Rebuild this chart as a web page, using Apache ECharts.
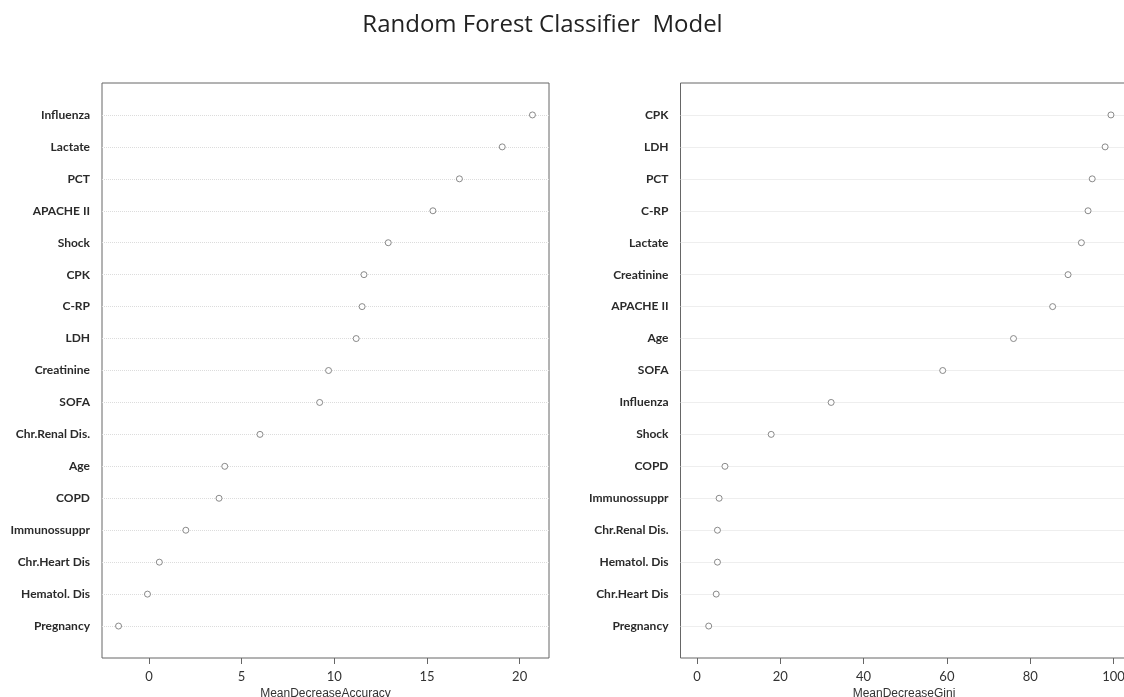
<!DOCTYPE html>
<html><head><meta charset="utf-8">
<script src="https://cdn.jsdelivr.net/npm/echarts@6/dist/echarts.min.js"></script>
<style>html,body{margin:0;padding:0;background:#fff}#c{width:1124px;height:697px}</style>
</head><body><div id="c"></div>
<script>
const chartTitle = 'Random Forest Classifier  Model';

const accLabels = ['Influenza','Lactate','PCT','APACHE II','Shock','CPK','C-RP','LDH','Creatinine','SOFA','Chr.Renal Dis.','Age','COPD','Immunossuppr','Chr.Heart Dis','Hematol. Dis','Pregnancy'];
const accValues = [20.69, 19.06, 16.75, 15.32, 12.91, 11.60, 11.50, 11.18, 9.69, 9.21, 5.99, 4.09, 3.78, 1.99, 0.56, -0.08, -1.64];
const accTicks = [0, 5, 10, 15, 20];
const accName = 'MeanDecreaseAccuracy';

const giniLabels = ['CPK','LDH','PCT','C-RP','Lactate','Creatinine','APACHE II','Age','SOFA','Influenza','Shock','COPD','Immunossuppr','Chr.Renal Dis.','Hematol. Dis','Chr.Heart Dis','Pregnancy'];
const giniValues = [99.4, 98.0, 94.9, 93.9, 92.3, 89.1, 85.4, 76.0, 59.0, 32.2, 17.8, 6.7, 5.3, 4.9, 4.9, 4.6, 2.8];
const giniTicks = [0, 20, 40, 60, 80, 100];
const giniName = 'MeanDecreaseGini';

// R-style axis extent: data range expanded by 4% on each side
function rRange(lo, hi) { const d = (hi - lo) * 0.04; return [lo - d, hi + d]; }
const accLim = rRange(Math.min(...accValues), Math.max(...accValues));
const giniLim = rRange(0, Math.max(...giniValues));

const chart = echarts.init(document.getElementById('c'), null, {renderer: 'canvas'});

function yAxisFor(labels, gi) {
  const n = labels.length;
  return {
    type: 'category', gridIndex: gi, boundaryGap: false,
    data: [''].concat(labels.slice().reverse(), ['']),
    axisLine: {show: false}, axisTick: {show: false},
    axisLabel: {interval: 0, margin: 12, fontFamily: 'Lato', fontSize: 12, fontWeight: 'bold', color: '#2a2a2a'},
    splitLine: {show: true, interval: (i) => i > 0 && i < n + 1, lineStyle: {color: '#dcdcdc', type: 'dotted', width: 1}}
  };
}
function xAxisFor(lim, ticks, name, gi) {
  return {
    type: 'value', gridIndex: gi, min: lim[0], max: lim[1],
    axisLine: {show: false},
    axisTick: {show: true, length: 6, customValues: ticks, lineStyle: {color: '#666'}},
    axisLabel: {customValues: ticks, margin: 12, fontFamily: 'Lato', fontSize: 13, color: '#333'},
    splitLine: {show: false},
    name: name, nameLocation: 'middle', nameGap: 29,
    nameTextStyle: {fontFamily: 'Liberation Sans', fontSize: 12, color: '#333'}
  };
}
function seriesFor(labels, values, gi) {
  return {
    type: 'scatter', xAxisIndex: gi, yAxisIndex: gi,
    symbol: 'circle', symbolSize: 6,
    itemStyle: {color: '#fff', borderColor: '#6e6e6e', borderWidth: 1},
    data: labels.map((l, i) => [values[i], l])
  };
}

chart.setOption({
  animation: false,
  backgroundColor: '#fff',
  graphic: [{
    type: 'text', x: 542.5, y: 25,
    style: {text: chartTitle, fontFamily: 'Open Sans', fontSize: 24, fill: '#222', align: 'center', verticalAlign: 'middle'}
  }],
  grid: [
    {left: 102, top: 83, width: 447, height: 575, containLabel: false, outerBoundsMode: 'none', show: true, borderColor: '#666', borderWidth: 1, backgroundColor: 'transparent'},
    {left: 680.5, top: 83, width: 447, height: 575, containLabel: false, outerBoundsMode: 'none', show: true, borderColor: '#666', borderWidth: 1, backgroundColor: 'transparent'}
  ],
  xAxis: [xAxisFor(accLim, accTicks, accName, 0), xAxisFor(giniLim, giniTicks, giniName, 1)],
  yAxis: [yAxisFor(accLabels, 0), yAxisFor(giniLabels, 1)],
  series: [seriesFor(accLabels, accValues, 0), seriesFor(giniLabels, giniValues, 1)]
});
</script></body></html>
